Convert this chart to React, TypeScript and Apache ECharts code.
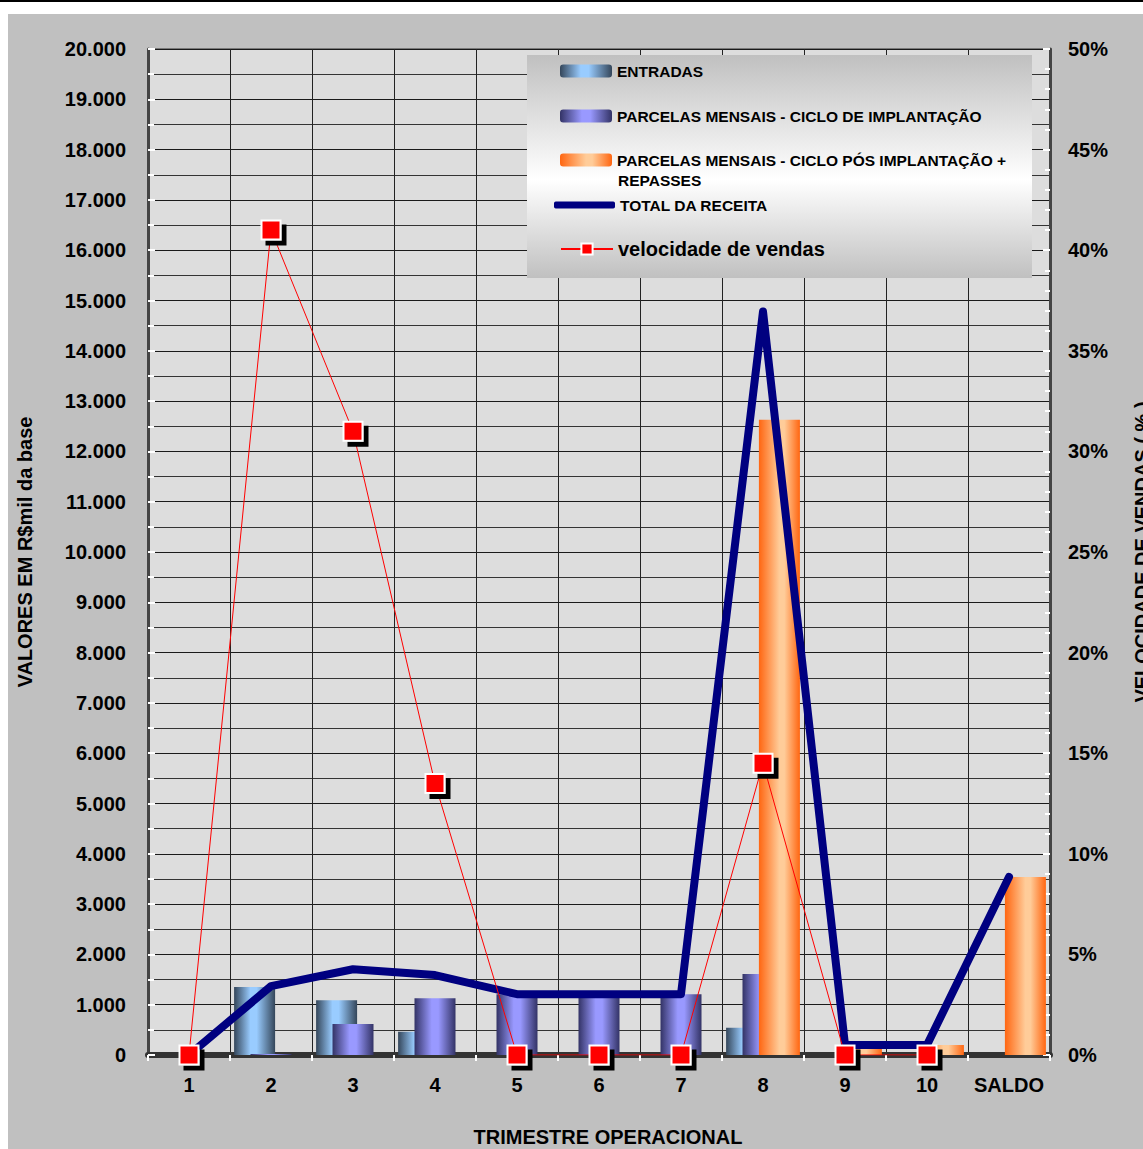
import React, { useEffect, useRef } from 'react';
import * as echarts from 'echarts';

const FONT = '"Liberation Sans", Arial, Helvetica, sans-serif';

const categories = ['1', '2', '3', '4', '5', '6', '7', '8', '9', '10', 'SALDO'];
const entradas = [0, 1350, 1090, 460, 0, 0, 0, 540, 0, 0, 0];
const implantacao = [0, 20, 615, 1130, 1210, 1210, 1210, 1610, 0, 0, 0];
const posImplantacao = [0, 0, 0, 0, 0, 0, 0, 12630, 200, 200, 3540];
const totalReceita = [0, 1370, 1705, 1590, 1210, 1210, 1210, 14780, 200, 200, 3540];
const velocidade: (number | null)[] = [0, 41, 31, 13.5, 0, 0, 0, 14.5, 0, 0, null];

const leftTicks = { min: 0, max: 20000, interval: 1000 };
const rightTicks = { min: 0, max: 50, interval: 5 };

const NAMES = {
  entradas: 'ENTRADAS',
  impl: 'PARCELAS MENSAIS - CICLO DE IMPLANTAÇÃO',
  pos: 'PARCELAS MENSAIS - CICLO PÓS IMPLANTAÇÃO + REPASSES',
  total: 'TOTAL DA RECEITA',
  vel: 'velocidade de vendas',
};

function hGrad(stops: [number, string][]) {
  return new echarts.graphic.LinearGradient(
    0, 0, 1, 0,
    stops.map(([offset, color]) => ({ offset, color }))
  );
}

function fmtThousands(v: number) {
  return String(Math.round(v)).replace(/\B(?=(\d{3})+(?!\d))/g, '.');
}

export default function App() {
  const ref = useRef<HTMLDivElement>(null);

  useEffect(() => {
    if (!ref.current) return;
    const chart = echarts.init(ref.current, null, { renderer: 'svg' });

    const boldText = { color: '#000', fontWeight: 'bold' as const, fontFamily: FONT };
    const legendBase = {
      orient: 'horizontal' as const,
      left: 552,
      padding: 0,
      itemWidth: 52,
      itemHeight: 13,
      selectedMode: false,
      textStyle: { ...boldText, fontSize: 15.5 },
      itemStyle: { shadowColor: 'rgba(0,0,0,0)', shadowOffsetX: 0, shadowOffsetY: 0 },
    };

    const option: any = {
      animation: false,
      backgroundColor: '#c0c0c0',
      textStyle: { fontFamily: FONT },
      grid: {
        left: 140, right: 93, top: 35, bottom: 94,
        outerBoundsMode: 'none', containLabel: false,
        show: true, backgroundColor: '#dddddd', borderColor: '#333', borderWidth: 1,
      },
      xAxis: [
        {
          type: 'category', data: categories, position: 'bottom', boundaryGap: true,
          axisLine: { show: true, lineStyle: { color: '#ffffff', width: 2 } },
          axisTick: { show: true, interval: 0, length: 6, lineStyle: { color: '#ffffff', width: 2 } },
          axisLabel: { ...boldText, fontSize: 20, margin: 20, interval: 0 },
          splitLine: { show: true, interval: 0, lineStyle: { color: '#222', width: 1 } },
          name: 'TRIMESTRE OPERACIONAL', nameLocation: 'middle', nameGap: 72,
          nameTextStyle: { ...boldText, fontSize: 20, padding: [0, 0, 0, 18] },
        },
        {
          type: 'category', data: categories, position: 'top',
          axisLine: { show: true, lineStyle: { color: '#333', width: 6 } },
          axisTick: { show: false }, axisLabel: { show: false }, splitLine: { show: false },
        },
      ],
      yAxis: [
        {
          type: 'value', position: 'left', ...leftTicks,
          axisLine: { show: true, lineStyle: { color: '#444', width: 3 } },
          axisTick: { show: true, inside: true, length: 7, lineStyle: { color: '#ffffff', width: 2 } },
          minorTick: { show: true, splitNumber: 2, length: 6, lineStyle: { color: '#ffffff', width: 2 } },
          splitLine: { show: true, lineStyle: { color: '#1a1a1a', width: 1 } },
          minorSplitLine: { show: true, lineStyle: { color: '#333', width: 1 } },
          axisLabel: { ...boldText, fontSize: 20, margin: 22, formatter: (v: number) => fmtThousands(v) },
          name: 'VALORES EM R$mil da base', nameLocation: 'middle', nameGap: 113, nameRotate: 90,
          nameTextStyle: { ...boldText, fontSize: 20 },
        },
        {
          type: 'value', position: 'right', ...rightTicks,
          axisLine: { show: true, lineStyle: { color: '#444', width: 3 } },
          axisTick: { show: true, inside: true, length: 7, lineStyle: { color: '#ffffff', width: 2 } },
          minorTick: { show: true, splitNumber: 5, length: 5, lineStyle: { color: '#ffffff', width: 2 } },
          splitLine: { show: false },
          axisLabel: { ...boldText, fontSize: 20, margin: 18, formatter: '{value}%' },
          name: 'VELOCIDADE DE VENDAS ( % )', nameLocation: 'middle', nameGap: 82, nameRotate: 90,
          nameTextStyle: { ...boldText, fontSize: 20 },
        },
      ],
      legend: [
        { ...legendBase, top: 49, data: [NAMES.entradas] },
        { ...legendBase, top: 94, data: [NAMES.impl] },
        { ...legendBase, top: 138, data: [NAMES.pos], formatter: () => 'PARCELAS MENSAIS - CICLO PÓS IMPLANTAÇÃO +' },
        {
          ...legendBase, left: 546, top: 183, itemWidth: 61, itemHeight: 7,
          data: [{ name: NAMES.total, icon: 'roundRect' }],
          itemStyle: { color: '#000080', borderWidth: 0 },
        },
        { ...legendBase, top: 225, itemHeight: 14, data: [NAMES.vel], textStyle: { ...boldText, fontSize: 20 } },
      ],
      graphic: [
        {
          type: 'rect', left: 519, top: 41, z: 3, silent: true,
          shape: { width: 505, height: 223 },
          style: {
            fill: new echarts.graphic.LinearGradient(0, 0, 0, 1, [
              { offset: 0, color: '#c0c0c0' },
              { offset: 0.56, color: '#ffffff' },
              { offset: 1, color: '#c0c0c0' },
            ]),
          },
        },
        {
          type: 'text', left: 610, top: 158, z: 6, silent: true,
          style: { text: 'REPASSES', font: `bold 15.5px ${FONT}`, fill: '#000' },
        },
      ],
      series: [
        {
          type: 'bar', name: NAMES.entradas, data: entradas,
          barGap: '-60%', barCategoryGap: '10%',
          itemStyle: { color: hGrad([[0, '#34465a'], [0.4, '#99ccff'], [0.55, '#99ccff'], [1, '#34465a']]) },
        },
        {
          type: 'bar', name: NAMES.impl, data: implantacao,
          barGap: '-60%', barCategoryGap: '10%',
          itemStyle: { color: hGrad([[0, '#333366'], [0.42, '#9999ff'], [0.58, '#9999ff'], [1, '#333366']]) },
        },
        {
          type: 'bar', name: NAMES.pos, data: posImplantacao,
          barGap: '-60%', barCategoryGap: '10%',
          itemStyle: { color: hGrad([[0, '#ff6611'], [0.5, '#ffcc99'], [0.62, '#ffcc99'], [1, '#ff6611']]) },
        },
        {
          type: 'line', name: NAMES.total, data: totalReceita, z: 4,
          symbol: 'none', showSymbol: false,
          lineStyle: { color: '#000080', width: 8, join: 'round', cap: 'round' },
          itemStyle: { color: '#000080' },
        },
        {
          type: 'line', name: NAMES.vel, data: velocidade, yAxisIndex: 1, z: 5,
          symbol: 'rect', symbolSize: 19,
          lineStyle: { color: '#ff0000', width: 1 },
          itemStyle: {
            color: '#ff0000', borderColor: '#ffffff', borderWidth: 2,
            shadowColor: '#000000', shadowOffsetX: 5, shadowOffsetY: 5, shadowBlur: 0,
          },
        },
      ],
    };

    chart.setOption(option);
    return () => chart.dispose();
  }, []);

  return (
    <>
      <div style={{ position: 'absolute', left: 0, top: 0, width: 1143, height: 2, background: '#000' }} />
      <div ref={ref} style={{ position: 'absolute', left: 8, top: 14, width: 1135, height: 1135 }} />
    </>
  );
}
